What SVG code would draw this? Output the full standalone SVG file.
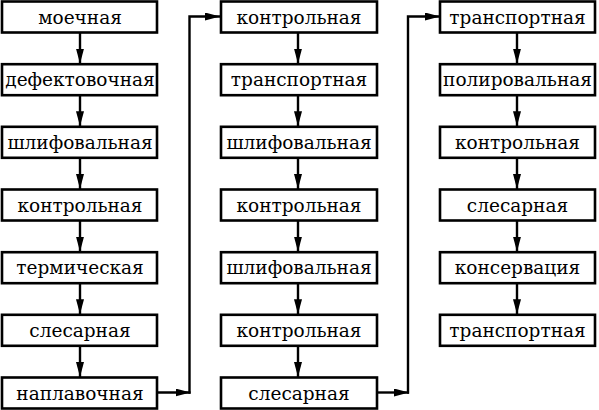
<svg xmlns="http://www.w3.org/2000/svg" width="599" height="410" viewBox="0 0 599 410">
<defs>
<marker id="ah" markerUnits="userSpaceOnUse" markerWidth="17" markerHeight="10" refX="15" refY="4" orient="auto">
<path d="M0,0 L15,4 L0,8 Z" fill="#000"/>
</marker>
<style>
.b{fill:#fff;stroke:#000;stroke-width:2.6}
.t{font-family:"DejaVu Serif","Liberation Serif",serif;font-size:18.5px;text-anchor:middle;fill:#000}
.c{fill:none;stroke:#000;stroke-width:2.4;marker-end:url(#ah)}
.l{fill:none;stroke:#000;stroke-width:2.4}
</style>
</defs>
<rect width="599" height="410" fill="#fff"/>
<g id="connectors">
<path class="c" d="M80,32 V63.7"/>
<path class="c" d="M80,94.7 V126.3"/>
<path class="c" d="M80,157.3 V189"/>
<path class="c" d="M80,220 V251.7"/>
<path class="c" d="M80,282.7 V314.3"/>
<path class="c" d="M80,345.3 V377"/>
<path class="c" d="M157,392.5 H190.5"/>
<path class="c" d="M189.5,393.7 V16.5 H220"/>
<path class="c" d="M298,32 V63.7"/>
<path class="c" d="M298,94.7 V126.3"/>
<path class="c" d="M298,157.3 V189"/>
<path class="c" d="M298,220 V251.7"/>
<path class="c" d="M298,282.7 V314.3"/>
<path class="c" d="M298,345.3 V377"/>
<path class="c" d="M377,392.5 H409"/>
<path class="c" d="M408,393.7 V16.5 H440"/>
<path class="c" d="M517,32 V63.7"/>
<path class="c" d="M517,94.7 V126.3"/>
<path class="c" d="M517,157.3 V189"/>
<path class="c" d="M517,220 V251.7"/>
<path class="c" d="M517,282.7 V314.3"/>
</g>
<g id="n1"><rect class="b" x="2" y="1.5" width="155" height="31"/><text class="t" x="80" y="23.5">моечная</text></g>
<g id="n2"><rect class="b" x="2" y="64.2" width="155" height="31"/><text class="t" x="80" y="86.2">дефектовочная</text></g>
<g id="n3"><rect class="b" x="2" y="126.8" width="155" height="31"/><text class="t" x="80" y="148.8">шлифовальная</text></g>
<g id="n4"><rect class="b" x="2" y="189.5" width="155" height="31"/><text class="t" x="80" y="211.5">контрольная</text></g>
<g id="n5"><rect class="b" x="2" y="252.2" width="155" height="31"/><text class="t" x="80" y="274.2">термическая</text></g>
<g id="n6"><rect class="b" x="2" y="314.8" width="155" height="31"/><text class="t" x="80" y="336.8">слесарная</text></g>
<g id="n7"><rect class="b" x="2" y="377.5" width="155" height="31"/><text class="t" x="80" y="399.5">наплавочная</text></g>
<g id="n8"><rect class="b" x="221" y="1.5" width="156" height="31"/><text class="t" x="299" y="23.5">контрольная</text></g>
<g id="n9"><rect class="b" x="221" y="64.2" width="156" height="31"/><text class="t" x="299" y="86.2">транспортная</text></g>
<g id="n10"><rect class="b" x="221" y="126.8" width="156" height="31"/><text class="t" x="299" y="148.8">шлифовальная</text></g>
<g id="n11"><rect class="b" x="221" y="189.5" width="156" height="31"/><text class="t" x="299" y="211.5">контрольная</text></g>
<g id="n12"><rect class="b" x="221" y="252.2" width="156" height="31"/><text class="t" x="299" y="274.2">шлифовальная</text></g>
<g id="n13"><rect class="b" x="221" y="314.8" width="156" height="31"/><text class="t" x="299" y="336.8">контрольная</text></g>
<g id="n14"><rect class="b" x="221" y="377.5" width="156" height="31"/><text class="t" x="299" y="399.5">слесарная</text></g>
<g id="n15"><rect class="b" x="440" y="1.5" width="155" height="31"/><text class="t" x="517.5" y="23.5">транспортная</text></g>
<g id="n16"><rect class="b" x="440" y="64.2" width="155" height="31"/><text class="t" x="517.5" y="86.2">полировальная</text></g>
<g id="n17"><rect class="b" x="440" y="126.8" width="155" height="31"/><text class="t" x="517.5" y="148.8">контрольная</text></g>
<g id="n18"><rect class="b" x="440" y="189.5" width="155" height="31"/><text class="t" x="517.5" y="211.5">слесарная</text></g>
<g id="n19"><rect class="b" x="440" y="252.2" width="155" height="31"/><text class="t" x="517.5" y="274.2">консервация</text></g>
<g id="n20"><rect class="b" x="440" y="314.8" width="155" height="31"/><text class="t" x="517.5" y="336.8">транспортная</text></g>
</svg>
